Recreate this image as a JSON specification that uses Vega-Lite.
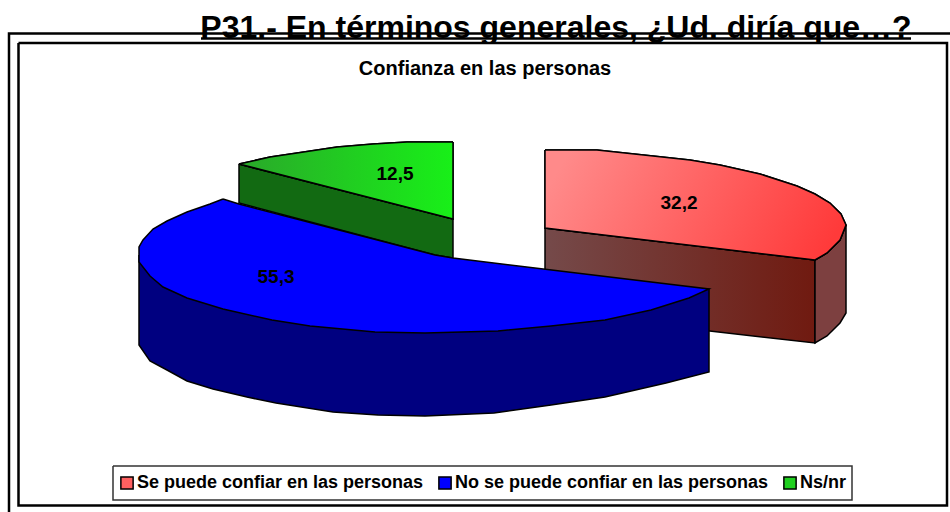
{"$schema":"https://vega.github.io/schema/vega-lite/v6.json","width":950,"height":512,"autosize":"none","padding":0,"background":"white","config":{"view":{"stroke":null},"text":{"font":"Liberation Sans","fontWeight":"bold"}},
"datasets":{"outline":[
{"poly":"underline","i":0,"x":201,"y":38.5},{"poly":"underline","i":1,"x":911,"y":38.5},
{"poly":"outer","i":0,"x":950,"y":33.5},{"poly":"outer","i":1,"x":9,"y":33.5},{"poly":"outer","i":2,"x":9,"y":512},
{"poly":"frame","i":0,"x":18.5,"y":43},{"poly":"frame","i":1,"x":947,"y":43},{"poly":"frame","i":2,"x":947,"y":505.5},{"poly":"frame","i":3,"x":18.5,"y":505.5},{"poly":"frame","i":4,"x":18.5,"y":43},
{"poly":"legendBox","i":0,"x":113,"y":466},{"poly":"legendBox","i":1,"x":852,"y":466},{"poly":"legendBox","i":2,"x":852,"y":500},{"poly":"legendBox","i":3,"x":113,"y":500},{"poly":"legendBox","i":4,"x":113,"y":466},
{"poly":"redFront","i":0,"x":545,"y":228},{"poly":"redFront","i":1,"x":815,"y":260},{"poly":"redFront","i":2,"x":815,"y":343},{"poly":"redFront","i":3,"x":545,"y":312},{"poly":"redFront","i":4,"x":545,"y":228},
{"poly":"redSide","i":0,"x":815,"y":260},{"poly":"redSide","i":1,"x":827,"y":253},{"poly":"redSide","i":2,"x":840,"y":240},{"poly":"redSide","i":3,"x":846,"y":225},{"poly":"redSide","i":4,"x":846,"y":313},{"poly":"redSide","i":5,"x":840,"y":323},{"poly":"redSide","i":6,"x":827,"y":336},{"poly":"redSide","i":7,"x":815,"y":343},{"poly":"redSide","i":8,"x":815,"y":260},
{"poly":"greenFront","i":0,"x":239,"y":164},{"poly":"greenFront","i":1,"x":453,"y":219},{"poly":"greenFront","i":2,"x":453,"y":258},{"poly":"greenFront","i":3,"x":435,"y":255},{"poly":"greenFront","i":4,"x":239,"y":203},{"poly":"greenFront","i":5,"x":239,"y":164},
{"poly":"blueSide","i":0,"x":139,"y":255},{"poly":"blueSide","i":1,"x":139,"y":345},{"poly":"blueSide","i":2,"x":150,"y":361},{"poly":"blueSide","i":3,"x":167,"y":370},{"poly":"blueSide","i":4,"x":187,"y":381},{"poly":"blueSide","i":5,"x":213,"y":389},{"poly":"blueSide","i":6,"x":247,"y":397},{"poly":"blueSide","i":7,"x":276,"y":403},{"poly":"blueSide","i":8,"x":333,"y":412},{"poly":"blueSide","i":9,"x":378,"y":415},{"poly":"blueSide","i":10,"x":425,"y":416},{"poly":"blueSide","i":11,"x":494,"y":413},{"poly":"blueSide","i":12,"x":551,"y":405},{"poly":"blueSide","i":13,"x":605,"y":397},{"poly":"blueSide","i":14,"x":666,"y":383},{"poly":"blueSide","i":15,"x":709,"y":372},{"poly":"blueSide","i":16,"x":709,"y":289},{"poly":"blueSide","i":17,"x":425,"y":300},{"poly":"blueSide","i":18,"x":139,"y":255},
{"poly":"redTop","series":"Se puede confiar en las personas","i":0,"x":545,"y":150},{"poly":"redTop","series":"Se puede confiar en las personas","i":1,"x":597,"y":150},{"poly":"redTop","series":"Se puede confiar en las personas","i":2,"x":653,"y":156},{"poly":"redTop","series":"Se puede confiar en las personas","i":3,"x":690,"y":160},{"poly":"redTop","series":"Se puede confiar en las personas","i":4,"x":720,"y":165},{"poly":"redTop","series":"Se puede confiar en las personas","i":5,"x":760,"y":174},{"poly":"redTop","series":"Se puede confiar en las personas","i":6,"x":797,"y":186},{"poly":"redTop","series":"Se puede confiar en las personas","i":7,"x":815,"y":194},{"poly":"redTop","series":"Se puede confiar en las personas","i":8,"x":830,"y":203},{"poly":"redTop","series":"Se puede confiar en las personas","i":9,"x":841,"y":214},{"poly":"redTop","series":"Se puede confiar en las personas","i":10,"x":846,"y":225},{"poly":"redTop","series":"Se puede confiar en las personas","i":11,"x":840,"y":240},{"poly":"redTop","series":"Se puede confiar en las personas","i":12,"x":827,"y":253},{"poly":"redTop","series":"Se puede confiar en las personas","i":13,"x":815,"y":260},{"poly":"redTop","series":"Se puede confiar en las personas","i":14,"x":545,"y":228},{"poly":"redTop","series":"Se puede confiar en las personas","i":15,"x":545,"y":150},
{"poly":"blueTop","series":"No se puede confiar en las personas","i":0,"x":223,"y":199},{"poly":"blueTop","series":"No se puede confiar en las personas","i":1,"x":210,"y":204},{"poly":"blueTop","series":"No se puede confiar en las personas","i":2,"x":187,"y":212},{"poly":"blueTop","series":"No se puede confiar en las personas","i":3,"x":167,"y":221},{"poly":"blueTop","series":"No se puede confiar en las personas","i":4,"x":153,"y":229},{"poly":"blueTop","series":"No se puede confiar en las personas","i":5,"x":143,"y":240},{"poly":"blueTop","series":"No se puede confiar en las personas","i":6,"x":139,"y":247},{"poly":"blueTop","series":"No se puede confiar en las personas","i":7,"x":139,"y":262},{"poly":"blueTop","series":"No se puede confiar en las personas","i":8,"x":150,"y":276},{"poly":"blueTop","series":"No se puede confiar en las personas","i":9,"x":163,"y":287},{"poly":"blueTop","series":"No se puede confiar en las personas","i":10,"x":187,"y":298},{"poly":"blueTop","series":"No se puede confiar en las personas","i":11,"x":223,"y":309},{"poly":"blueTop","series":"No se puede confiar en las personas","i":12,"x":272,"y":320},{"poly":"blueTop","series":"No se puede confiar en las personas","i":13,"x":310,"y":326},{"poly":"blueTop","series":"No se puede confiar en las personas","i":14,"x":375,"y":332},{"poly":"blueTop","series":"No se puede confiar en las personas","i":15,"x":425,"y":333},{"poly":"blueTop","series":"No se puede confiar en las personas","i":16,"x":498,"y":331},{"poly":"blueTop","series":"No se puede confiar en las personas","i":17,"x":551,"y":326},{"poly":"blueTop","series":"No se puede confiar en las personas","i":18,"x":605,"y":320},{"poly":"blueTop","series":"No se puede confiar en las personas","i":19,"x":651,"y":310},{"poly":"blueTop","series":"No se puede confiar en las personas","i":20,"x":689,"y":298},{"poly":"blueTop","series":"No se puede confiar en las personas","i":21,"x":709,"y":289},{"poly":"blueTop","series":"No se puede confiar en las personas","i":22,"x":453,"y":258},{"poly":"blueTop","series":"No se puede confiar en las personas","i":23,"x":435,"y":255},{"poly":"blueTop","series":"No se puede confiar en las personas","i":24,"x":239,"y":204},{"poly":"blueTop","series":"No se puede confiar en las personas","i":25,"x":223,"y":199},
{"poly":"greenTop","series":"Ns/nr","i":0,"x":453,"y":142},{"poly":"greenTop","series":"Ns/nr","i":1,"x":407,"y":142},{"poly":"greenTop","series":"Ns/nr","i":2,"x":373,"y":144},{"poly":"greenTop","series":"Ns/nr","i":3,"x":337,"y":147},{"poly":"greenTop","series":"Ns/nr","i":4,"x":297,"y":153},{"poly":"greenTop","series":"Ns/nr","i":5,"x":270,"y":157},{"poly":"greenTop","series":"Ns/nr","i":6,"x":239,"y":164},{"poly":"greenTop","series":"Ns/nr","i":7,"x":453,"y":219},{"poly":"greenTop","series":"Ns/nr","i":8,"x":453,"y":142}
],
"texts":[
{"role":"title","x":556,"y":38,"label":"P31.- En términos generales, ¿Ud. diría que…?"},
{"role":"subtitle","x":485,"y":69,"label":"Confianza en las personas"},
{"role":"value","x":679,"y":203,"label":"32,2"},
{"role":"value","x":395,"y":174,"label":"12,5"},
{"role":"value","x":276,"y":277,"label":"55,3"}
]},
"encoding":{"x":{"field":"x","type":"quantitative","scale":{"domain":[0,950]},"axis":null},"y":{"field":"y","type":"quantitative","scale":{"domain":[512,0]},"axis":null}},
"layer":[
{"data":{"name":"texts"},"transform":[{"filter":"datum.role==='title'"}],"mark":{"type":"text","fontSize":32,"align":"center","baseline":"alphabetic"},"encoding":{"text":{"field":"label"}}},
{"data":{"name":"outline"},"transform":[{"filter":"datum.poly==='underline'"}],"mark":{"type":"line","stroke":"black","strokeWidth":2.5},"encoding":{"order":{"field":"i"}}},
{"data":{"name":"outline"},"transform":[{"filter":"datum.poly==='frame'"}],"mark":{"type":"line","fill":"white","stroke":"black","strokeWidth":2.5},"encoding":{"order":{"field":"i"}}},
{"data":{"name":"outline"},"transform":[{"filter":"datum.poly==='outer'"}],"mark":{"type":"line","stroke":"black","strokeWidth":2.5},"encoding":{"order":{"field":"i"}}},
{"data":{"name":"outline"},"transform":[{"filter":"datum.poly==='legendBox'"}],"mark":{"type":"line","stroke":"#333333","strokeWidth":1.5},"encoding":{"order":{"field":"i"}}},
{"data":{"name":"texts"},"transform":[{"filter":"datum.role==='subtitle'"}],"mark":{"type":"text","fontSize":20,"align":"center","baseline":"middle"},"encoding":{"text":{"field":"label"}}},
{"data":{"name":"outline"},"transform":[{"filter":"datum.poly==='redFront'"}],"mark":{"type":"line","stroke":"black","strokeWidth":1.5,"fill":{"gradient":"linear","x1":0,"y1":0,"x2":1,"y2":0,"stops":[{"offset":0,"color":"#754a4a"},{"offset":1,"color":"#701a10"}]}},"encoding":{"order":{"field":"i"}}},
{"data":{"name":"outline"},"transform":[{"filter":"datum.poly==='redSide'"}],"mark":{"type":"line","stroke":"black","strokeWidth":1.5,"fill":"#7d4040"},"encoding":{"order":{"field":"i"}}},
{"data":{"name":"outline"},"transform":[{"filter":"datum.poly==='greenFront'"}],"mark":{"type":"line","stroke":"black","strokeWidth":1.5,"fill":"#126a12"},"encoding":{"order":{"field":"i"}}},
{"data":{"name":"outline"},"transform":[{"filter":"datum.poly==='blueSide'"}],"mark":{"type":"line","stroke":"black","strokeWidth":1.5,"fill":"#000080"},"encoding":{"order":{"field":"i"}}},
{"data":{"name":"outline"},"transform":[{"filter":"isValid(datum.series)"}],"mark":{"type":"line","stroke":"black","strokeWidth":1.5},"encoding":{"order":{"field":"i"},"detail":{"field":"poly"},"fill":{"field":"series","type":"nominal","scale":{"domain":["Se puede confiar en las personas","No se puede confiar en las personas","Ns/nr"],"range":["#ff6060","#0000ff","#20d020"]},"legend":{"title":null,"orient":"none","legendX":118,"legendY":474,"direction":"horizontal","columns":3,"gridAlign":"none","columnPadding":11,"symbolType":"square","symbolSize":150,"symbolStrokeColor":"black","symbolStrokeWidth":1.5,"labelFont":"Liberation Sans","labelFontWeight":"bold","labelFontSize":18,"labelColor":"black","labelLimit":400,"labelOffset":1,"padding":0}}}},
{"data":{"name":"outline"},"transform":[{"filter":"datum.poly==='redTop'"}],"mark":{"type":"line","stroke":"black","strokeWidth":1.5,"fill":{"gradient":"linear","x1":0,"y1":0.4,"x2":1,"y2":0.6,"stops":[{"offset":0,"color":"#ff8a8a"},{"offset":1,"color":"#ff3a3a"}]}},"encoding":{"order":{"field":"i"}}},
{"data":{"name":"outline"},"transform":[{"filter":"datum.poly==='greenTop'"}],"mark":{"type":"line","stroke":"black","strokeWidth":1.5,"fill":{"gradient":"linear","x1":0,"y1":0,"x2":1,"y2":0,"stops":[{"offset":0,"color":"#2aa82a"},{"offset":1,"color":"#18f018"}]}},"encoding":{"order":{"field":"i"}}},
{"data":{"name":"texts"},"transform":[{"filter":"datum.role==='value'"}],"mark":{"type":"text","fontSize":19,"align":"center","baseline":"middle"},"encoding":{"text":{"field":"label"}}}
]}
